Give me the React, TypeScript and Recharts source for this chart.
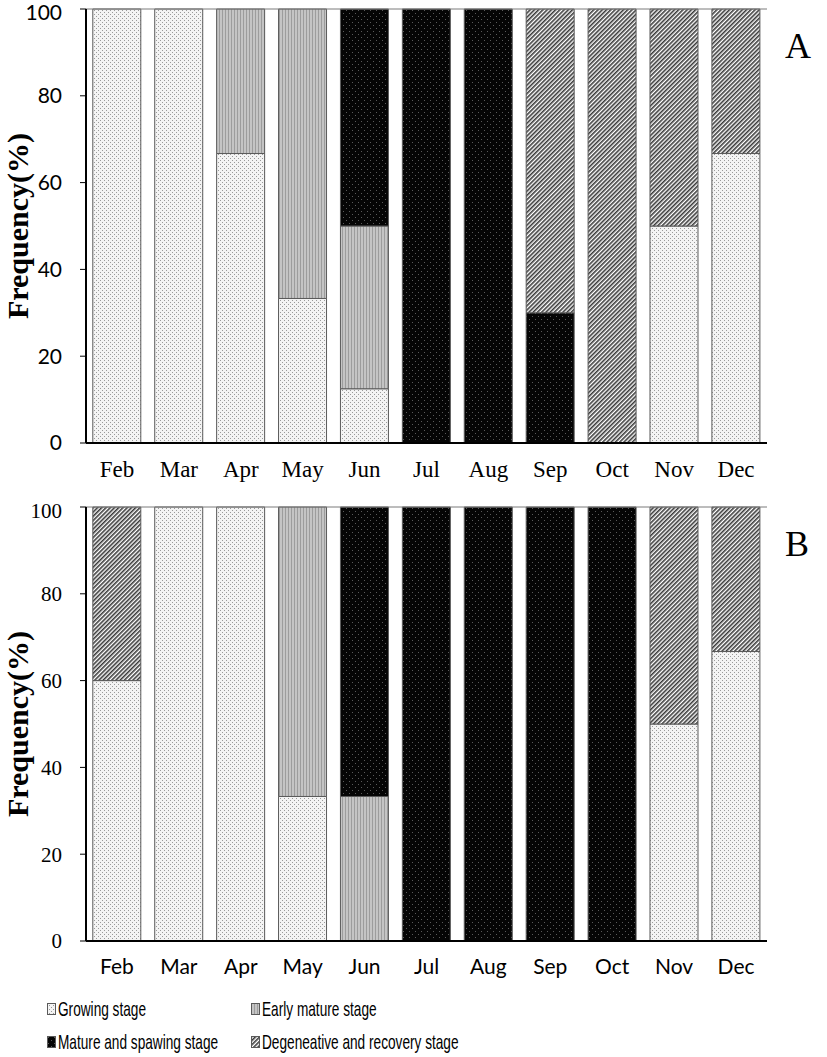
import { BarChart, Bar, XAxis, YAxis, ReferenceLine, Label } from 'recharts';

const months = ['Feb', 'Mar', 'Apr', 'May', 'Jun', 'Jul', 'Aug', 'Sep', 'Oct', 'Nov', 'Dec'];

// panel A
const growingA = [100, 100, 66.7, 33.3, 12.5, 0, 0, 0, 0, 50, 66.7];
const earlyA = [0, 0, 33.3, 66.7, 37.5, 0, 0, 0, 0, 0, 0];
const matureA = [0, 0, 0, 0, 50, 100, 100, 30, 0, 0, 0];
const degenA = [0, 0, 0, 0, 0, 0, 0, 70, 100, 50, 33.3];

// panel B
const growingB = [60, 100, 100, 33.3, 0, 0, 0, 0, 0, 50, 66.7];
const earlyB = [0, 0, 0, 66.7, 33.3, 0, 0, 0, 0, 0, 0];
const matureB = [0, 0, 0, 0, 66.7, 100, 100, 100, 100, 0, 0];
const degenB = [40, 0, 0, 0, 0, 0, 0, 0, 0, 50, 33.3];

const yTicks = [0, 20, 40, 60, 80, 100];

const stages = [
  { key: 'growing', label: 'Growing stage', fill: 'url(#pGrowing)' },
  { key: 'early', label: 'Early mature stage', fill: 'url(#pEarly)' },
  { key: 'mature', label: 'Mature and spawing stage', fill: 'url(#pMature)' },
  { key: 'degen', label: 'Degeneative and recovery stage', fill: 'url(#pDegen)' },
];

const build = (g: number[], e: number[], m: number[], d: number[]) =>
  months.map((month, i) => ({ month, growing: g[i], early: e[i], mature: m[i], degen: d[i] }));

const dataA = build(growingA, earlyA, matureA, degenA);
const dataB = build(growingB, earlyB, matureB, degenB);

const SERIF = '"Liberation Serif", "Times New Roman", serif';
const SANS = 'Lato, "Open Sans", sans-serif';

function Patterns() {
  return (
    <defs>
      <pattern id="pGrowing" width="4" height="4" patternUnits="userSpaceOnUse">
        <rect width="4" height="4" fill="#f4f4f4" />
        <rect x="0" y="0" width="1" height="1" fill="#9a9a9a" />
        <rect x="2" y="2" width="1" height="1" fill="#9a9a9a" />
      </pattern>
      <pattern id="pEarly" width="3" height="3" patternUnits="userSpaceOnUse">
        <rect width="3" height="3" fill="#c4c4c4" />
        <rect x="0" y="0" width="1" height="3" fill="#9c9c9c" />
      </pattern>
      <pattern id="pMature" width="6" height="6" patternUnits="userSpaceOnUse">
        <rect width="6" height="6" fill="#050505" />
        <rect x="1" y="1" width="1" height="1" fill="#5a5a5a" />
        <rect x="4" y="4" width="1" height="1" fill="#5a5a5a" />
      </pattern>
      <pattern id="pDegen" width="3" height="3" patternUnits="userSpaceOnUse" patternTransform="rotate(45)">
        <rect width="3" height="3" fill="#ffffff" />
        <rect x="0" y="0" width="1.6" height="3" fill="#3a3a3a" />
      </pattern>
    </defs>
  );
}

function Panel({ data, tag, xFont, xSize, yFont }: { data: any[]; tag: string; xFont: string; xSize: number; yFont: string }) {
  return (
    <div style={{ position: 'relative', width: 827, height: 490 }}>
      <BarChart
        width={827}
        height={490}
        data={data}
        margin={{ top: 9, right: 60, bottom: 0, left: 0 }}
        barCategoryGap="11%"
      >
        <Patterns />
        <XAxis
          dataKey="month"
          axisLine={{ stroke: '#000', strokeWidth: 2 }}
          tickLine={false}
          height={47}
          tickMargin={12}
          fontSize={xSize}
          tick={{ fill: '#000', fontSize: xSize, fontFamily: xFont }}
        />
        <YAxis
          domain={[0, 100]}
          ticks={yTicks}
          width={86}
          axisLine={{ stroke: '#000', strokeWidth: 2 }}
          tickLine={{ stroke: '#000' }}
          tickSize={6}
          tickMargin={18}
          fontSize={21}
          tick={{ fill: '#000', fontSize: 21, fontFamily: yFont }}
        >
          <Label
            value="Frequency(%)"
            angle={-90}
            position="insideLeft"
            offset={17}
            fontSize={30}
            style={{ fontFamily: SERIF, fontWeight: 'bold', fontSize: 30, fill: '#000', textAnchor: 'middle' }}
          />
        </YAxis>
        <YAxis yAxisId="r" orientation="right" width={0} tick={false} tickLine={false} axisLine={{ stroke: '#7a7a7a' }} />
        <ReferenceLine y={100} stroke="#7a7a7a" />
        {stages.map((s) => (
          <Bar
            key={s.key}
            dataKey={s.key}
            stackId="a"
            fill={s.fill}
            stroke="#5a5a5a"
            strokeWidth={1}
            isAnimationActive={false}
          />
        ))}
      </BarChart>
      <div style={{ position: 'absolute', left: 785, top: 25, fontFamily: SERIF, fontSize: 36 }}>{tag}</div>
    </div>
  );
}

export default function App() {
  return (
    <div style={{ position: 'absolute', left: 0, top: 0, width: 827, height: 1057, background: '#fff' }}>
      <div style={{ position: 'absolute', left: 0, top: 0 }}>
        <Panel data={dataA} tag="A" xFont={SERIF} xSize={23} yFont={SANS} />
      </div>
      <div style={{ position: 'absolute', left: 0, top: 498 }}>
        <Panel data={dataB} tag="B" xFont={SANS} xSize={21} yFont={SERIF} />
      </div>
      <svg width={0} height={0} style={{ position: 'absolute' }}>
        <Patterns />
      </svg>
      {stages.map((s, i) => (
        <div
          key={s.key}
          style={{
            position: 'absolute',
            left: i % 2 === 0 ? 47 : 251,
            top: i < 2 ? 997 : 1030,
            display: 'flex',
            alignItems: 'center',
            whiteSpace: 'nowrap',
            fontFamily: '"Liberation Sans", Arial, sans-serif',
            fontSize: 21,
            color: '#000',
          }}
        >
          <svg width={9} height={12} style={{ marginRight: 2 }}>
            <rect x={0.5} y={0.5} width={8} height={11} fill={s.fill} stroke="#5a5a5a" />
          </svg>
          <span style={{ display: 'inline-block', transform: 'scaleX(0.65)', transformOrigin: 'left center' }}>
            {s.label}
          </span>
        </div>
      ))}
    </div>
  );
}
